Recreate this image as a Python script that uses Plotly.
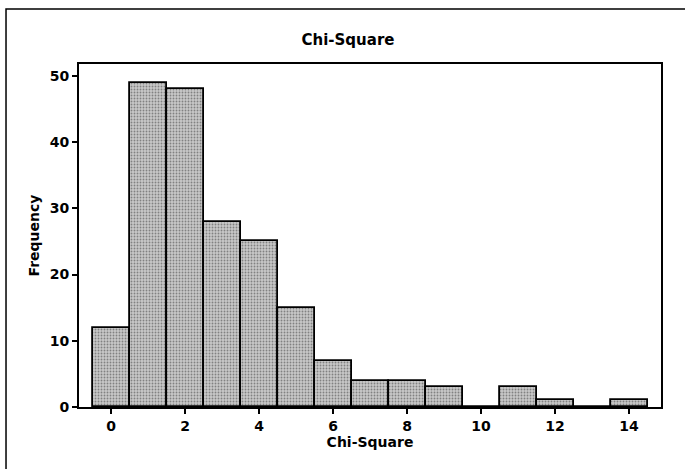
import plotly.graph_objects as go

bin_centers = [0, 1, 2, 3, 4, 5, 6, 7, 8, 9, 10, 11, 12, 13, 14]
frequency = [12, 49, 48, 28, 25, 15, 7, 4, 4, 3, 0, 3, 1, 0, 1]
x_ticks = [0, 2, 4, 6, 8, 10, 12, 14]
y_ticks = [0, 10, 20, 30, 40, 50]

FONT = "DejaVu Sans"

fig = go.Figure(go.Bar(
    x=bin_centers, y=frequency, width=1,
    marker=dict(color="#c0c0c0",
                line=dict(color="black", width=1.8),
                pattern=dict(shape=".", fgcolor="#3a3a3a", bgcolor="#c8c8c8", size=3, solidity=0.3)),
))

fig.update_layout(
    width=685, height=469,
    margin=dict(l=79, r=24, t=64, b=62),
    paper_bgcolor="white", plot_bgcolor="white",
    showlegend=False, bargap=0,
    title=dict(text="<b>Chi-Square</b>", x=0.508, xanchor="center", y=0.915, yanchor="middle",
               font=dict(family=FONT, size=15, color="black")),
    font=dict(family=FONT, color="black"),
    xaxis=dict(range=[-0.865, 14.865], tickvals=x_ticks, ticktext=[f"<b>{v}</b>" for v in x_ticks],
               ticks="outside", ticklen=5, tickwidth=1.5, tickcolor="black",
               showline=True, linecolor="black", linewidth=2, mirror=True, showgrid=False, zeroline=False,
               tickfont=dict(size=14, family=FONT),
               title=dict(text="<b>Chi-Square</b>", font=dict(size=14, family=FONT), standoff=2)),
    yaxis=dict(range=[0, 51.8], tickvals=y_ticks, ticktext=[f"<b>{v}</b>" for v in y_ticks],
               ticks="outside", ticklen=5, tickwidth=1.5, tickcolor="black",
               showline=True, linecolor="black", linewidth=2, mirror=True, showgrid=False, zeroline=False,
               tickfont=dict(size=14, family=FONT),
               title=dict(text="<b>Frequency</b>", font=dict(size=14, family=FONT), standoff=7)),
    shapes=[dict(type="rect", xref="paper", yref="paper", x0=-0.1254, y0=-0.3, x1=1.2, y1=1.160,
                 line=dict(color="black", width=1.5), fillcolor="rgba(0,0,0,0)", layer="below")],
)

fig.write_html("out.html", config={"displayModeBar": False},
               post_script="document.body.style.margin='0';")
